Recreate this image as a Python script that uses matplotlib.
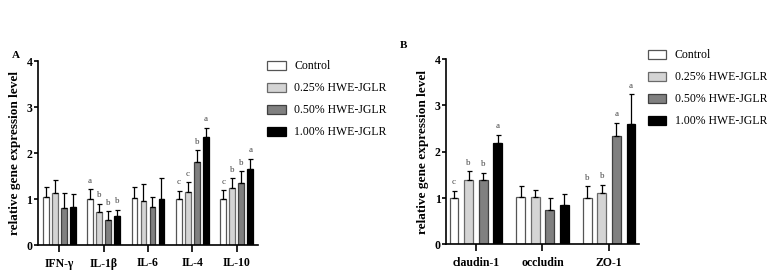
import matplotlib.pyplot as plt
import numpy as np

plt.rcParams['font.family'] = ['Liberation Serif', 'DejaVu Serif']

groups = ['Control', '0.25% HWE-JGLR', '0.50% HWE-JGLR', '1.00% HWE-JGLR']
colors = ['white', '#d4d4d4', '#808080', 'black']
edges = ['#555555', '#6a6a6a', '#404040', 'black']

# panel A
cats_a = ['IFN-γ', 'IL-1β', 'IL-6', 'IL-4', 'IL-10']
means_a = [[1.04, 1.00, 1.02, 1.00, 1.01],
           [1.13, 0.72, 0.95, 1.16, 1.25],
           [0.80, 0.54, 0.83, 1.80, 1.35],
           [0.83, 0.62, 1.00, 2.35, 1.65]]
err_a = [[0.22, 0.21, 0.24, 0.18, 0.18],
         [0.29, 0.17, 0.37, 0.20, 0.20],
         [0.34, 0.19, 0.21, 0.26, 0.25],
         [0.27, 0.14, 0.45, 0.20, 0.22]]
letters_a = [['', 'a', '', 'c', 'c'],
             ['', 'b', '', 'c', 'b'],
             ['', 'b', '', 'b', 'b'],
             ['', 'b', '', 'a', 'a']]

# panel B
cats_b = ['claudin-1', 'occludin', 'ZO-1']
means_b = [[1.00, 1.02, 1.01],
           [1.38, 1.02, 1.11],
           [1.38, 0.74, 2.33],
           [2.18, 0.86, 2.61]]
err_b = [[0.16, 0.25, 0.24],
         [0.20, 0.16, 0.18],
         [0.16, 0.26, 0.29],
         [0.18, 0.23, 0.63]]
letters_b = [['c', '', 'b'],
             ['b', '', 'b'],
             ['b', '', 'a'],
             ['a', '', 'a']]

fig = plt.figure(figsize=(7.67, 2.8), dpi=100)
axA = fig.add_axes([0.0495, 0.125, 0.2868, 0.657])
axB = fig.add_axes([0.5815, 0.1275, 0.2516, 0.661])


def draw(ax, cats, means, errs, letters, pitch, width, xpad):
    x = np.arange(len(cats))
    handles = []
    for i in range(4):
        pos = x + (i - 1.5) * pitch
        b = ax.bar(pos, means[i], width, color=colors[i], edgecolor=edges[i],
                   linewidth=0.9, zorder=2)
        handles.append(b)
        ax.errorbar(pos, means[i], yerr=[np.zeros(len(cats)), errs[i]], fmt='none',
                    ecolor='black', elinewidth=0.9, capsize=1.8, capthick=0.9, zorder=3)
        for j in range(len(cats)):
            if letters[i][j]:
                ax.text(pos[j], means[i][j] + errs[i][j] + 0.1, letters[i][j],
                        ha='center', va='bottom', fontsize=6.5, color='#444444')
    ax.set_ylim(0, 4)
    ax.set_xlim(-xpad, len(cats) - 1 + xpad)
    ax.set_yticks([0, 1, 2, 3, 4])
    ax.set_xticks(x)
    ax.set_xticklabels(cats)
    for s in ['top', 'right']:
        ax.spines[s].set_visible(False)
    for s in ['left', 'bottom']:
        ax.spines[s].set_linewidth(1.2)
    ax.tick_params(axis='y', length=3, width=1.2, pad=1, labelsize=8.5)
    ax.tick_params(axis='x', length=5, width=1.2, pad=4, labelsize=8.5)
    for lab in ax.get_xticklabels() + ax.get_yticklabels():
        lab.set_fontweight('bold')
    ax.set_ylabel('relative gene expression level', fontsize=9.5, fontweight='bold',
                  labelpad=4)
    return handles


hA = draw(axA, cats_a, means_a, err_a, letters_a, 0.203, 0.125, 0.48)
hB = draw(axB, cats_b, means_b, err_b, letters_b, 0.22, 0.135, 0.45)

axA.legend(hA, groups, loc='upper left', bbox_to_anchor=(1.02, 1.03), frameon=False,
           fontsize=8.5, handlelength=1.6, handleheight=0.8, labelspacing=0.85,
           handletextpad=0.7, borderaxespad=0)
axB.legend(hB, groups, loc='upper left', bbox_to_anchor=(1.02, 1.08), frameon=False,
           fontsize=8.5, handlelength=1.6, handleheight=0.8, labelspacing=0.85,
           handletextpad=0.7, borderaxespad=0)

fig.text(12 / 767, 1 - 55 / 280, 'A', fontsize=8, fontweight='bold', va='center')
fig.text(400 / 767, 1 - 45 / 280, 'B', fontsize=8, fontweight='bold', va='center')

fig.savefig('out.png', dpi=100)
